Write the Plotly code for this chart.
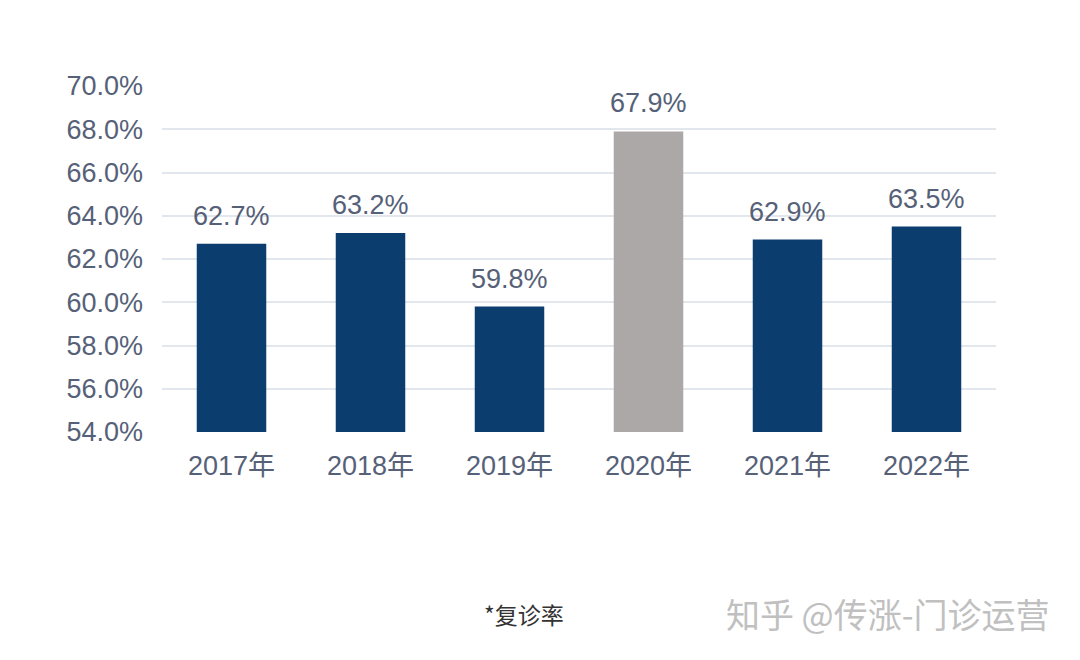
import plotly.graph_objects as go

categories = ["2017年", "2018年", "2019年", "2020年", "2021年", "2022年"]
values = [62.7, 63.2, 59.8, 67.9, 62.9, 63.5]
bar_colors = ["#0b3d6e", "#0b3d6e", "#0b3d6e", "#aca8a7", "#0b3d6e", "#0b3d6e"]
tick_vals = [54, 56, 58, 60, 62, 64, 66, 68, 70]
tick_text = [f"{v:.1f}%" for v in tick_vals]

FONT = "Liberation Sans, Arial, Noto Sans CJK SC, sans-serif"
TXT = "#566178"

fig = go.Figure()
fig.add_trace(go.Bar(
    x=categories, y=values, marker=dict(color=bar_colors, line=dict(width=0)),
    width=0.5,
))
for c, v in zip(categories, values):
    fig.add_annotation(x=c, y=v, text=f"{v:.1f}%", showarrow=False,
                       yanchor="bottom", yshift=11,
                       font=dict(family=FONT, size=27, color=TXT))

fig.add_annotation(x=0.434, y=-0.526, xref="paper", yref="paper",
                   text="*复诊率", showarrow=False, yanchor="middle",
                   font=dict(family="Noto Sans CJK SC, sans-serif", size=23, color="#333333"))
fig.add_annotation(x=1.067, y=-0.526, xref="paper", yref="paper",
                   text="知乎 @传涨-门诊运营", showarrow=False, xanchor="right", yanchor="middle",
                   font=dict(family="Noto Sans CJK SC, sans-serif", size=34, color="#c0c0c0"))

fig.update_layout(
    width=1080, height=660,
    margin=dict(l=154, r=92, t=78, b=236),
    paper_bgcolor="white", plot_bgcolor="white",
    showlegend=False,
    font=dict(family=FONT, color=TXT),
)
fig.update_yaxes(range=[54, 70], tickvals=tick_vals, ticktext=tick_text,
                 showgrid=True, gridcolor="#e2e6ed", gridwidth=2,
                 zeroline=False, showline=False, automargin=False,
                 tickfont=dict(family=FONT, size=27, color=TXT),
                 ticklabelstandoff=18)
fig.update_xaxes(showline=False, showgrid=False, automargin=False,
                 tickfont=dict(family=FONT, size=27, color=TXT),
                 ticklabelstandoff=15)

fig.write_html("out.html")
